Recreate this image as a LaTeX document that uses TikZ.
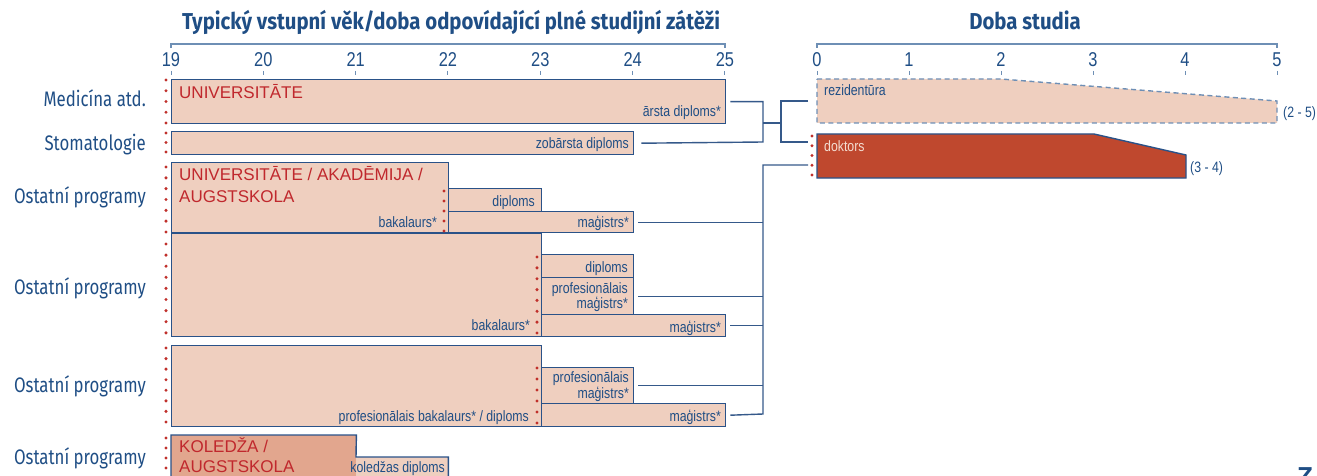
\documentclass[tikz,border=0pt]{standalone}
\usepackage{fontspec}
\setmainfont{Liberation Sans}
\newfontfamily\narrowf[FakeStretch=0.82]{Liberation Sans}
\newfontfamily\condf[FakeStretch=0.8]{Fira Sans}
\newfontfamily\condbf[FakeStretch=0.885]{Fira Sans Bold}
\definecolor{navy}{HTML}{1F4E85}
\definecolor{boxline}{HTML}{2A5288}
\definecolor{boxfill}{HTML}{EFCFBF}
\definecolor{kolfill}{HTML}{E2A68E}
\definecolor{dokfill}{HTML}{BF482E}
\definecolor{dotred}{HTML}{C0302B}
\definecolor{axisc}{HTML}{6E8FB5}
\definecolor{connc}{HTML}{35598A}
\definecolor{redtext}{HTML}{C0282D}
\definecolor{doktext}{HTML}{F3DCD0}
\begin{document}
\begin{tikzpicture}[x=1pt,y=-1pt,
  box/.style={draw=boxline, fill=boxfill, line width=1.4pt, inner sep=0pt, anchor=north west},
  fillbox/.style={fill=#1, inner sep=0pt, anchor=north west},
  edge/.style={draw=boxline, line width=1.4pt},
  t/.style={inner sep=0pt, text=navy, font=\narrowf\fontsize{15}{17}\selectfont},
  tr/.style={t, anchor=base east},
  big/.style={inner sep=0pt, anchor=base west, text=redtext, font=\fontsize{17}{20}\selectfont},
  lab/.style={inner sep=0pt, anchor=base east, text=navy, font=\condf\fontsize{21}{24}\selectfont},
  ttl/.style={inner sep=0pt, anchor=base, text=navy, font=\condbf\fontsize{23}{26}\selectfont},
  num/.style={inner sep=0pt, anchor=base, text=navy, font=\narrowf\fontsize{20}{22}\selectfont},
  axis/.style={draw=axisc, line width=1.5pt},
  tick/.style={draw=axisc, line width=1pt},
  conn/.style={draw=connc, line width=1.4pt},
  reddots/.style={draw=dotred, line width=3.4pt, line cap=round, dash pattern=on 0pt off #1},
]
\useasboundingbox (0,0) rectangle (1317,476);

% titles
\node[ttl] (title1) at (451,30) {Typický vstupní věk/doba odpovídající plné studijní zátěži};
\node[ttl] (title2) at (1025,30) {Doba studia};

% left axis
\draw[axis] (171,48) -- (171,44) -- (725,44) -- (725,48);
\foreach \v [count=\i from 0] in {19,20,21,22,23,24,25}{
  \node[num] (ax\v) at ({171+92.33*\i},67) {\v};
  \draw[tick] ({171+92.33*\i},71) -- ({171+92.33*\i},75);
}
% right axis
\draw[axis] (817,48) -- (817,44) -- (1277,44) -- (1277,48);
\foreach \v in {0,...,5}{
  \node[num] (bx\v) at ({817+92*\v},67) {\v};
  \draw[tick] ({817+92*\v},71) -- ({817+92*\v},75);
}

% row labels
\node[lab] (l1) at (146,107) {Medicína atd.};
\node[lab] (l2) at (146,150) {Stomatologie};
\node[lab] (l3) at (146,203) {Ostatní programy};
\node[lab] (l4) at (146,294) {Ostatní programy};
\node[lab] (l5) at (146,392) {Ostatní programy};
\node[lab] (l6) at (146,464) {Ostatní programy};

% boxes
\node[box, minimum width=554pt, minimum height=44pt] (med) at (171,79) {};
\node[box, minimum width=462pt, minimum height=23pt] (stom) at (171,131) {};

\node[box, minimum width=277pt, minimum height=70pt] (o1) at (171,162) {};
\node[box, minimum width=93pt, minimum height=23pt] (o1d) at (448,188) {};
\node[box, minimum width=185pt, minimum height=21pt] (o1m) at (448,211) {};

\node[box, minimum width=370pt, minimum height=103pt] (o2) at (171,233) {};
\node[box, minimum width=92pt, minimum height=23pt] (o2d) at (541,254) {};
\node[box, minimum width=92pt, minimum height=37pt] (o2p) at (541,277) {};
\node[box, minimum width=184pt, minimum height=22pt] (o2m) at (541,314) {};

\node[box, minimum width=370pt, minimum height=81pt] (o3) at (171,345) {};
\node[box, minimum width=92pt, minimum height=36pt] (o3p) at (541,367) {};
\node[box, minimum width=184pt, minimum height=23pt] (o3m) at (541,403) {};

% college row: filled parts, then outline without crossing the text
\node[fillbox=boxfill, minimum width=92pt, minimum height=40pt] (kold) at (356,457) {};
\node[fillbox=kolfill, minimum width=185pt, minimum height=60pt] (kol) at (171,435) {};
\draw[edge] (kol.south west) -- (kol.north west) -- (kol.north east) -- (kold.north west) -- (kold.north east) -- (kold.south east);

% right shapes
\path[draw=axisc, line width=1.4pt, dash pattern=on 5pt off 3.5pt, fill=boxfill]
  (817,79) -- (1001,79) -- (1277,101) -- (1277,123) -- (817,123) -- cycle;
\path[draw=boxline, line width=1.4pt, fill=dokfill]
  (817,134) -- (1094,134) -- (1186,155) -- (1186,178) -- (817,178) -- cycle;

% red dotted lines
\draw[reddots=10.75pt] (166,80) -- (166,123.5);
\draw[reddots=9.5pt] (166,133) -- (166,152.5);
\draw[reddots=10.83pt] (166,167) -- (166,232.5);
\draw[reddots=11.1pt] (166,244) -- (166,333.5);
\draw[reddots=10.57pt] (166,348) -- (166,422.5);
\draw[reddots=10pt] (166,438) -- (166,480);
\draw[reddots=10pt] (444,191) -- (444,231.5);
\draw[reddots=10.86pt] (537,257) -- (537,333.5);
\draw[reddots=11pt] (537,368) -- (537,423.5);
\draw[reddots=9.75pt] (812,136) -- (812,175.5);

% texts in boxes
\node[big] (tuni) at (179,99) {UNIVERSITĀTE};
\node[tr] (tars) at (721,117) {ārsta diploms*};
\node[tr] (tzob) at (629,149) {zobārsta diploms};
\node[big] (tuak1) at (179,180) {UNIVERSITĀTE / AKADĒMIJA /};
\node[big] (tuak2) at (179,202) {AUGSTSKOLA};
\node[tr] (tbak1) at (437,227) {bakalaurs*};
\node[tr] (td1) at (535,206) {diploms};
\node[tr] (tm1) at (629,227) {maģistrs*};
\node[tr] (td2) at (628,272) {diploms};
\node[tr] (tp2a) at (628,293) {profesionālais};
\node[tr] (tp2b) at (628,308) {maģistrs*};
\node[tr] (tbak2) at (530,330) {bakalaurs*};
\node[tr] (tm2) at (721,332) {maģistrs*};
\node[tr] (tp3a) at (629,382) {profesionālais};
\node[tr] (tp3b) at (629,398) {maģistrs*};
\node[tr] (tpb3) at (529,421) {profesionālais bakalaurs* / diploms};
\node[tr] (tm3) at (721,421) {maģistrs*};
\node[big] (tkol1) at (179,452) {KOLEDŽA /};
\node[big] (tkol2) at (179,472) {AUGSTSKOLA};
\node[tr] (tkd) at (445,472) {koledžas diploms};
\node[t, anchor=base west] (trez) at (824,96) {rezidentūra};
\node[t, anchor=base west, text=doktext] (tdok) at (824,151) {doktors};
\node[t, anchor=base west] (r25) at (1283,118) {(2 - 5)};
\node[t, anchor=base west] (r34) at (1190,172) {(3 - 4)};
\node[inner sep=0pt, anchor=base west, text=navy, font=\bfseries\fontsize{26}{28}\selectfont] (pg) at (1297,485) {Z};

% connectors
\coordinate (rezL) at (808,101);
\coordinate (dokL1) at (808,142);
\coordinate (dokL2) at (808,165);
\coordinate (jA) at (763,142);
\coordinate (bl) at (763,123);
\coordinate (br) at (781,123);
\coordinate (jB) at (781,142);
\coordinate (vb) at (763,414);

\draw[conn] ([xshift=4pt]med.east) -| (jA) -- ([xshift=7pt]stom.east);
\draw[conn] (bl) -- (br);
\draw[conn] (rezL) -| (jB) -- (dokL1);
\draw[conn] (dokL2) -| (vb) -- ([xshift=4pt]o3m.east);
\draw[conn] ([xshift=4pt]o1m.east) -- (o1m.east -| vb);
\draw[conn] ([xshift=4pt]o2p.east) -- (o2p.east -| vb);
\draw[conn] ([xshift=4pt]o2m.east) -- (o2m.east -| vb);
\draw[conn] ([xshift=4pt]o3p.east) -- (o3p.east -| vb);
\end{tikzpicture}
\end{document}
